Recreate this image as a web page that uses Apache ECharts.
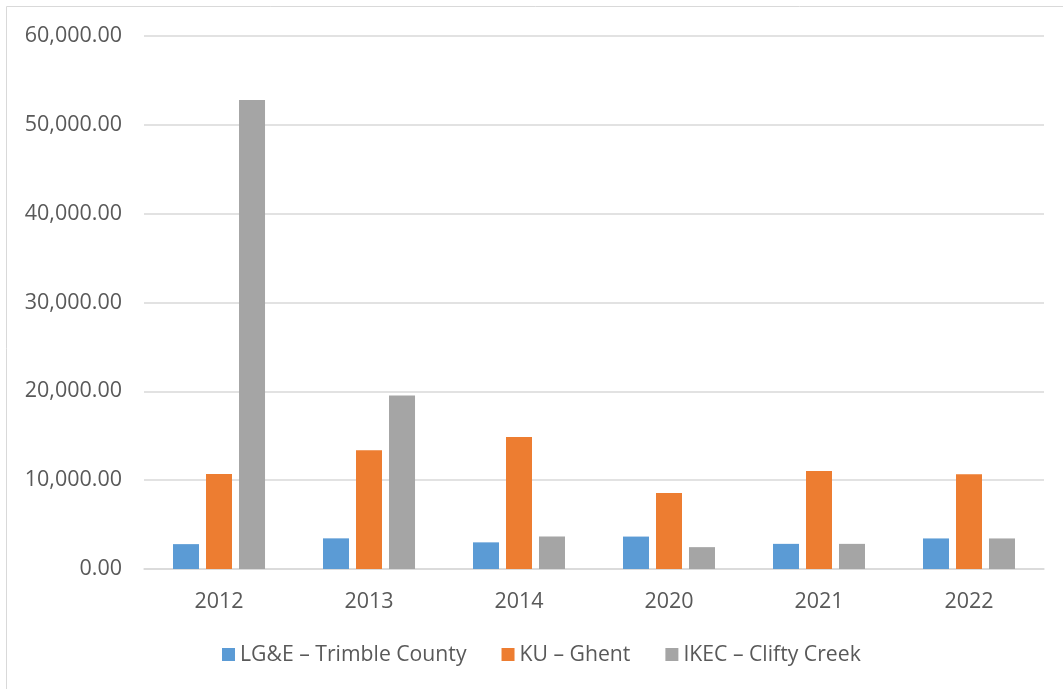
<!DOCTYPE html>
<html><head><meta charset="utf-8">
<script src="https://cdn.jsdelivr.net/npm/echarts@6/dist/echarts.min.js"></script>
<style>html,body{margin:0;padding:0;background:#fff}#c{width:1063px;height:689px}</style>
</head><body><div id="c"></div>
<script>
const categories = ['2012','2013','2014','2020','2021','2022'];
const trimble = [2800, 3450, 3000, 3650, 2830, 3440];
const ghent = [10700, 13380, 14860, 8560, 11020, 10680];
const clifty = [52800, 19520, 3660, 2460, 2830, 3440];
const seriesNames = ['LG&E – Trimble County', 'KU – Ghent', 'IKEC – Clifty Creek'];
const colors = ['#5b9bd5', '#ed7d31', '#a5a5a5'];

const chart = echarts.init(document.getElementById('c'), null, {renderer: 'canvas'});
const font = 'Open Sans';
const mk = (name, data, color) => ({
  name, type: 'bar', data, barWidth: 26, barGap: '27%',
  itemStyle: {color}, emphasis: {disabled: true}
});
chart.setOption({
  animation: false,
  textStyle: {fontFamily: font},
  graphic: [{
    type: 'rect', shape: {x: 6.5, y: 6.5, width: 1100, height: 700},
    style: {fill: 'none', stroke: '#d9d9d9', lineWidth: 1}, silent: true, z: -1
  }],
  grid: {left: 144, right: 19, top: 36, bottom: 120},
  xAxis: {
    type: 'category', data: categories,
    axisLine: {lineStyle: {color: '#d9d9d9', width: 1.5}},
    axisTick: {show: false},
    axisLabel: {color: '#595959', fontSize: 21.5, fontFamily: font, margin: 22}
  },
  yAxis: {
    type: 'value', min: 0, max: 60000, interval: 10000,
    axisLine: {show: false}, axisTick: {show: false},
    splitLine: {lineStyle: {color: '#d9d9d9', width: 1.5}},
    axisLabel: {
      color: '#595959', fontSize: 21.5, fontFamily: font, margin: 22,
      formatter: v => v.toLocaleString('en-US', {minimumFractionDigits: 2, maximumFractionDigits: 2})
    }
  },
  legend: {
    data: seriesNames, bottom: 19, left: 217,
    itemWidth: 13, itemHeight: 13, itemGap: 35,
    icon: 'rect',
    textStyle: {color: '#595959', fontSize: 21.2, fontFamily: font}
  },
  series: [mk(seriesNames[0], trimble, colors[0]), mk(seriesNames[1], ghent, colors[1]), mk(seriesNames[2], clifty, colors[2])]
});
</script></body></html>
